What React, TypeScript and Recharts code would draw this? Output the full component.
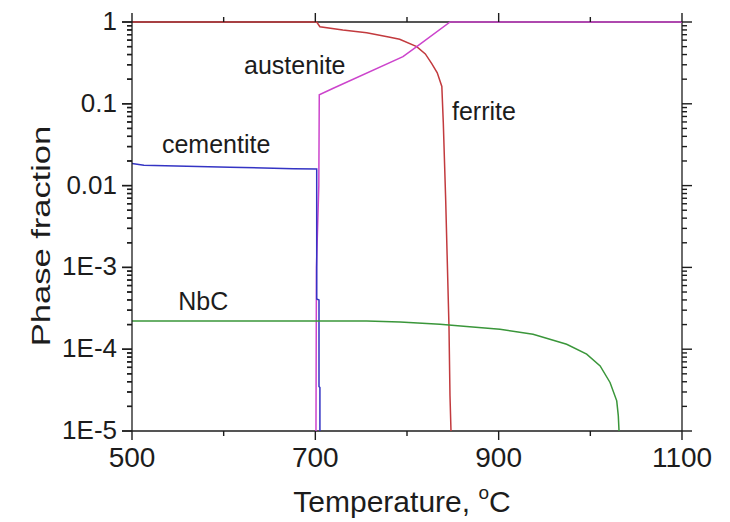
import { LineChart, Line, XAxis, YAxis, ReferenceDot, ReferenceLine } from 'recharts';

document.body.style.margin = '0';

const font = '"Liberation Sans", Arial, sans-serif';
const ink = '#1c1c1c';

// phase fraction vs temperature (°C)
const ferriteT = [500, 700, 701.5, 705, 730, 756, 780, 792, 810.6, 820, 827, 833, 838, 839.6, 842.2, 845.8, 846.9, 848];
const ferriteV = [1, 1, 1, 0.876, 0.8, 0.74, 0.656, 0.615, 0.5, 0.407, 0.31, 0.239, 0.163, 0.0587, 0.0067, 1.9e-4, 2.7e-5, 1e-5];

const austeniteT = [700.7, 701.2, 703.8, 704.3, 719.6, 795.6, 810.6, 847, 1100];
const austeniteV = [1e-5, 1e-3, 0.01, 0.129, 0.155, 0.377, 0.5, 1, 1];

const cementiteT = [500, 513, 606.8, 676, 701.5, 701.5, 704, 704, 705, 705];
const cementiteV = [0.0186, 0.0177, 0.0168, 0.0161, 0.016, 4.1e-4, 4e-4, 3.5e-5, 3.4e-5, 1e-5];

const nbcT = [500, 756, 792.4, 836, 865, 901.4, 937.5, 974.2, 996, 1010.7, 1021.5, 1028.8, 1030.5, 1031.3];
const nbcV = [2.21e-4, 2.21e-4, 2.15e-4, 2.02e-4, 1.89e-4, 1.75e-4, 1.52e-4, 1.15e-4, 8.7e-5, 6.25e-5, 3.92e-5, 2.34e-5, 1.54e-5, 1e-5];

const xTicks = [500, 600, 700, 800, 900, 1000, 1100];
const xMajor = [500, 700, 900, 1100];
const decades = [1e-5, 1e-4, 1e-3, 0.01, 0.1, 1];
const decadeLabels = ['1E-5', '1E-4', '1E-3', '0.01', '0.1', '1'];

const yTicks: number[] = [];
decades.forEach((d, i) => {
  yTicks.push(d);
  if (i < decades.length - 1) for (let k = 2; k <= 9; k++) yTicks.push(k * d);
});

const toPoints = (ts: number[], vs: number[]) => ts.map((t, i) => ({ t, v: vs[i] }));

const series = [
  { name: 'ferrite', color: '#c23a3e', data: toPoints(ferriteT, ferriteV) },
  { name: 'austenite', color: '#cc44cc', data: toPoints(austeniteT, austeniteV) },
  { name: 'cementite', color: '#3434c4', data: toPoints(cementiteT, cementiteV) },
  { name: 'NbC', color: '#3a963a', data: toPoints(nbcT, nbcV) },
];

// text anchors (left end of baseline) in data units
const notes = [
  { text: 'austenite', t: 622.2, v: 0.232 },
  { text: 'cementite', t: 532.7, v: 0.0251 },
  { text: 'ferrite', t: 849.1, v: 0.0625 },
  { text: 'NbC', t: 550.5, v: 3.01e-4 },
];

// left tick mark lengths, in °C along the x scale
const leftMajorLen = 10.9;
const leftMinorLen = 5.45;

const decadeIndex = (v: number) => decades.findIndex((d) => Math.abs(Math.log10(v) - Math.log10(d)) < 1e-6);

const tickLineStyle = { stroke: ink, strokeWidth: 1.4 };

function BottomTick(props: any) {
  const { x, y, payload } = props;
  const major = xMajor.includes(payload.value);
  return (
    <g>
      <line x1={x} x2={x} y1={y} y2={y + (major ? 9 : 5)} {...tickLineStyle} />
      {major && (
        <text x={x} y={y + 36} textAnchor="middle" fontSize={28} fontFamily={font} fill={ink}>
          {payload.value}
        </text>
      )}
    </g>
  );
}

function TopTick(props: any) {
  const { x, y, payload } = props;
  const major = xMajor.includes(payload.value);
  return <line x1={x} x2={x} y1={y} y2={y - (major ? 9 : 5)} {...tickLineStyle} />;
}

function LeftTick(props: any) {
  const { x, y, payload } = props;
  const idx = decadeIndex(payload.value);
  const major = idx >= 0;
  return (
    <g>
      <line x1={x} x2={x - (major ? 10 : 5)} y1={y} y2={y} {...tickLineStyle} />
      {major && (
        <text x={x - 15} y={y + 8} textAnchor="end" fontSize={26} fontFamily={font} fill={ink}>
          {decadeLabels[idx]}
        </text>
      )}
    </g>
  );
}

function RightTick(props: any) {
  const { x, y, payload } = props;
  const major = decadeIndex(payload.value) >= 0;
  return <line x1={x} x2={x + (major ? 10 : 5)} y1={y} y2={y} {...tickLineStyle} />;
}

const noteLabel = (text: string) => (props: any) => {
  const vb = props.viewBox;
  return (
    <text x={vb.x + vb.width / 2} y={vb.y + vb.height / 2} fontSize={25} fontFamily={font} fill={ink}>
      {text}
    </text>
  );
};

const XTitle = (props: any) => {
  const vb = props.viewBox;
  return (
    <text x={vb.x + vb.width / 2 - 5} y={512} textAnchor="middle" fontSize={30} fontFamily={font} fill={ink}>
      Temperature,{' '}
      <tspan fontSize={19} dy={-13}>o</tspan>
      <tspan fontSize={30} dy={13}>C</tspan>
    </text>
  );
};

const YTitle = () => (
  <text
    transform="translate(50,236) rotate(-90) scale(1.38,1)"
    textAnchor="middle"
    fontSize={25}
    fontFamily={font}
    fill={ink}
  >
    Phase fraction
  </text>
);

const axisLine = { stroke: ink, strokeWidth: 1.3 };

export default function App() {
  return (
    <LineChart width={730} height={522} margin={{ top: 10, right: 36, left: 72, bottom: 31 }}>
      <XAxis
        xAxisId="b"
        dataKey="t"
        type="number"
        domain={[500, 1100]}
        ticks={xTicks}
        interval={0}
        height={60}
        tickSize={0}
        tickMargin={0}
        tickLine={false}
        axisLine={axisLine}
        tick={BottomTick}
        label={<XTitle />}
      />
      <XAxis
        xAxisId="t"
        orientation="top"
        dataKey="t"
        type="number"
        domain={[500, 1100]}
        ticks={xTicks}
        interval={0}
        height={12}
        tickSize={0}
        tickMargin={0}
        tickLine={false}
        axisLine={axisLine}
        tick={TopTick}
      />
      <YAxis
        yAxisId="l"
        dataKey="v"
        type="number"
        scale="log"
        domain={[1e-5, 1]}
        ticks={yTicks}
        interval={0}
        width={60}
        tickSize={0}
        tickMargin={0}
        tickLine={false}
        axisLine={axisLine}
        tick={LeftTick}
        label={<YTitle />}
        zIndex={700}
      />
      <YAxis
        yAxisId="r"
        orientation="right"
        dataKey="v"
        type="number"
        scale="log"
        domain={[1e-5, 1]}
        ticks={yTicks}
        interval={0}
        width={12}
        tickSize={0}
        tickMargin={0}
        tickLine={false}
        axisLine={axisLine}
        tick={RightTick}
      />
      {series.map((s) => (
        <Line
          key={s.name}
          xAxisId="b"
          yAxisId="l"
          data={s.data}
          dataKey="v"
          type="linear"
          stroke={s.color}
          strokeWidth={1.5}
          dot={false}
          activeDot={false}
          isAnimationActive={false}
          zIndex={600}
        />
      ))}
      {/* unstroked copy so the top and right frame axes get a domain */}
      <Line
        xAxisId="t"
        yAxisId="r"
        data={series[3].data}
        dataKey="v"
        stroke="none"
        dot={false}
        activeDot={false}
        isAnimationActive={false}
      />
      {/* outward tick marks on the left edge */}
      {yTicks.map((v) => (
        <ReferenceLine
          key={v}
          xAxisId="b"
          yAxisId="l"
          segment={[
            { x: 500, y: v },
            { x: 500 - (decadeIndex(v) >= 0 ? leftMajorLen : leftMinorLen), y: v },
          ]}
          stroke={ink}
          strokeWidth={1.4}
          ifOverflow="visible"
          zIndex={700}
        />
      ))}
      {notes.map((n) => (
        <ReferenceDot
          key={n.text}
          xAxisId="b"
          yAxisId="l"
          x={n.t}
          y={n.v}
          r={1}
          fill="none"
          stroke="none"
          label={noteLabel(n.text)}
        />
      ))}
    </LineChart>
  );
}
